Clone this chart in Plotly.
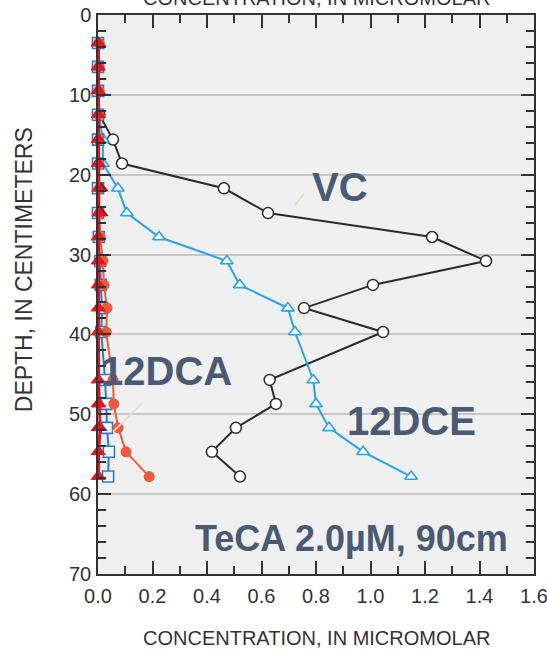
import plotly.graph_objects as go

# Depth (cm) of each sample
depth = [3.5, 6.5, 9.5, 12.5, 15.6, 18.6, 21.7, 24.8, 27.8, 30.8, 33.8, 36.7, 39.7, 45.7, 48.7, 51.7, 54.7, 57.8]

# Concentrations (micromolar)
vc = [0.0, 0.0, 0.0, 0.005, 0.055, 0.088, 0.462, 0.624, 1.226, 1.424, 1.009, 0.756, 1.046, 0.630, 0.653, 0.506, 0.418, 0.521]
dce12 = [0.0, 0.0, 0.0, 0.003, 0.018, 0.018, 0.073, 0.106, 0.224, 0.473, 0.520, 0.697, 0.723, 0.790, 0.800, 0.848, 0.973, 1.149]
squares = [0.0, 0.0, 0.0, 0.0, 0.0, 0.0, 0.0, 0.0, 0.003, 0.008, 0.010, 0.015, 0.012, 0.026, 0.030, 0.033, 0.040, 0.037]
dca12 = [0.003, 0.003, 0.003, 0.003, 0.003, 0.003, 0.005, 0.005, 0.008, 0.018, 0.022, 0.033, 0.030, 0.055, 0.058, 0.074, 0.103, 0.188]
dark_red = [0.0, 0.0, 0.0, 0.0, 0.0, 0.0, 0.012, 0.012, 0.0, 0.0, 0.0, 0.0, 0.0, 0.0, 0.0, 0.0, 0.0, 0.0]
teca = [0.002, 0.002, 0.002, 0.002, 0.002, 0.002, 0.002, 0.002, 0.002, 0.002, 0.002, 0.002, 0.002, 0.002, 0.005, 0.008, 0.002, 0.002]

x_ticks = [0.0, 0.2, 0.4, 0.6, 0.8, 1.0, 1.2, 1.4, 1.6]
y_ticks = [0, 10, 20, 30, 40, 50, 60, 70]

FONT = "Liberation Sans"
LABEL_COLOR = "#4b5a73"
AX = "#333333"

fig = go.Figure()

fig.add_trace(go.Scatter(
    x=vc, y=depth, mode="lines+markers", cliponaxis=False, name="VC",
    line=dict(color="#2b2b2b", width=2),
    marker=dict(symbol="circle", size=11, color="white", line=dict(color="#2b2b2b", width=1.5)),
))
fig.add_trace(go.Scatter(
    x=dce12, y=depth, mode="lines+markers", cliponaxis=False, name="12DCE",
    line=dict(color="#2aa3e2", width=2),
    marker=dict(symbol="triangle-up", size=11, color="white", line=dict(color="#2aa3e2", width=1.6)),
))
fig.add_trace(go.Scatter(
    x=squares, y=depth, mode="lines+markers", cliponaxis=False, name="squares",
    line=dict(color="#2a7cc6", width=2),
    marker=dict(symbol="square", size=11, color="white", line=dict(color="#2a7cc6", width=1.6)),
))
fig.add_trace(go.Scatter(
    x=dca12, y=depth, mode="lines+markers", cliponaxis=False, name="12DCA",
    line=dict(color="#f0593e", width=2),
    marker=dict(symbol="circle", size=11, color="#f0593e"),
))
fig.add_trace(go.Scatter(
    x=dark_red, y=depth, mode="markers", cliponaxis=False, name="dark",
    marker=dict(symbol="triangle-up", size=13, color="#a8141c"),
))
fig.add_trace(go.Scatter(
    x=teca, y=depth, mode="lines+markers", cliponaxis=False, name="TeCA",
    line=dict(color="#e3161e", width=3),
    marker=dict(symbol="triangle-up", size=13, color="#e3161e"),
))

labels = [
    ("<b>VC</b>", 0.888, 21.6, 40),
    ("<b>12DCE</b>", 1.149, 50.9, 40),
    ("<b>12DCA</b>", 0.25, 44.6, 40),
    ("<b>TeCA 2.0µM, 90cm</b>", 0.929, 65.6, 36),
]
annotations = []
for txt, x, y, s in labels:
    annotations.append(dict(text=txt, x=x, y=y, xref="x", yref="y", showarrow=False,
                            xanchor="center", yanchor="middle",
                            font=dict(family=FONT, size=s, color=LABEL_COLOR)))

annotations.append(dict(text="CONCENTRATION, IN MICROMOLAR", x=0.5, y=-0.114, xref="paper", yref="paper",
                        showarrow=False, xanchor="center", yanchor="middle",
                        font=dict(family=FONT, size=20, color=AX)))
annotations.append(dict(text="CONCENTRATION, IN MICROMOLAR", x=0.5, y=1, xref="paper", yref="paper",
                        showarrow=False, xanchor="center", yanchor="bottom", yshift=4,
                        font=dict(family=FONT, size=20, color=AX)))
annotations.append(dict(text="DEPTH, IN CENTIMETERS", x=-0.17, y=0.545, xref="paper", yref="paper",
                        showarrow=False, textangle=-90, xanchor="center", yanchor="middle",
                        font=dict(family=FONT, size=23, color=AX)))

shapes = [
    dict(type="line", xref="x", yref="y", x0=0.723, y0=23.8, x1=0.756, y1=22.4,
         line=dict(color="#e6dfc6", width=1.5)),
    dict(type="line", xref="x", yref="y", x0=0.055, y0=52.2, x1=0.161, y1=48.6,
         line=dict(color="#e6dfc6", width=1.5)),
]

fig.update_layout(
    width=547, height=652, autosize=False,
    margin=dict(l=98, r=13, t=15, b=78, autoexpand=False),
    paper_bgcolor="white", plot_bgcolor="#f0f0f0",
    showlegend=False,
    annotations=annotations,
    shapes=shapes,
    font=dict(family=FONT, color=AX),
)
fig.update_xaxes(
    range=[0, 1.6], tickvals=x_ticks, tickformat=".1f", automargin=False,
    ticks="inside", ticklen=13, tickwidth=1.5, tickcolor=AX,
    showline=True, linecolor=AX, linewidth=1.5, mirror="ticks",
    showgrid=False, zeroline=False, ticklabeloverflow="allow",
    tickfont=dict(family=FONT, size=20, color=AX), ticklabelstandoff=3,
    minor=dict(dtick=0.1, ticks="inside", ticklen=8, tickwidth=1.5, tickcolor=AX, showgrid=False),
)
fig.update_yaxes(
    range=[70, 0], tickvals=y_ticks, automargin=False,
    ticks="inside", ticklen=13, tickwidth=1.5, tickcolor=AX,
    showline=True, linecolor=AX, linewidth=1.5, mirror="ticks",
    showgrid=True, gridcolor="#c6c6c6", gridwidth=1.5, zeroline=False,
    tickfont=dict(family=FONT, size=20, color=AX), ticklabelstandoff=1,
    minor=dict(dtick=2, ticks="inside", ticklen=8, tickwidth=1.5, tickcolor=AX, showgrid=False),
)

fig.write_html("out.html", config={"displayModeBar": False},
               post_script="document.body.style.margin='0px';document.body.style.padding='0px';")
